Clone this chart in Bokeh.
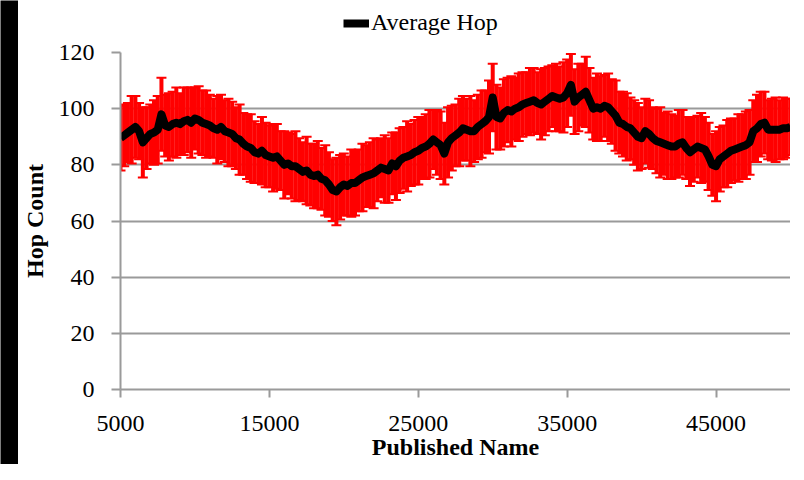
from bokeh.plotting import figure
from bokeh.layouts import row, column
from bokeh.models import (ColumnDataSource, Range1d, FixedTicker, Whisker, TeeHead,
                          Legend, LegendItem, BasicTickFormatter)
from bokeh.embed import file_html
from bokeh.resources import INLINE

# ---- data ----
published_name = list(range(5000, 50001, 250))

average_hop = [
    89.5, 90.5, 91.5, 92.5, 93.5, 92, 88, 89.5, 91, 91.5,
    92.5, 98, 94, 93.5, 94.5, 95, 94.5, 95.5, 96, 95,
    96.5, 96, 95, 94.5, 94, 93, 92.5, 93.5, 92, 91.5,
    91, 89.5, 89, 87.5, 86.5, 86, 84.5, 84, 85, 83.5,
    83, 82.5, 83, 81.5, 80, 80.5, 79.5, 79.5, 78.5, 77.5,
    78, 76.5, 76, 76.5, 75, 74.5, 73, 71, 70.5, 72,
    73, 72.5, 73.5, 73.5, 74.5, 75.5, 76, 76.5, 77, 78,
    79, 78.5, 78, 80.5, 79.5, 81.5, 82.5, 83, 83.5, 84.5,
    85, 86, 86.5, 87.5, 89, 88, 87, 84, 88, 89.5,
    90.5, 91.5, 93, 92.5, 92, 92, 93.5, 94.5, 95.5, 97,
    104, 97, 96.5, 98.5, 99.5, 99, 100, 100.5, 101.5, 102,
    102.5, 103, 102, 101.5, 102.5, 103.5, 104.5, 104, 103.5, 104,
    105.5, 108.5, 102.5, 104, 105, 106, 103, 100, 100.5, 100,
    101, 100.5, 99, 97.5, 95, 94.5, 93.5, 93, 91.5, 90,
    89.5, 92, 91, 89.5, 88.5, 88, 87.5, 87, 86.5, 86.5,
    87.5, 88, 86, 84.5, 85.5, 86.5, 86, 85.5, 83, 80,
    79.5, 82, 83, 84, 85, 85.5, 86, 86.5, 87, 88,
    92, 93, 94.5, 95, 92.5, 92.5, 92.5, 92.5, 93, 93,
    93.5,
]

hop_error = [
    11.5, 11, 10.5, 12, 11, 10, 12.5, 11, 10.5, 11.5,
    12, 13, 11, 12, 11.5, 12.5, 11, 12, 11.5, 12.5,
    11, 12, 11.5, 12, 11, 10.5, 12, 11.5, 11, 12,
    11.5, 11, 12.5, 11, 11.5, 12, 11, 10.5, 12, 11.5,
    11, 12, 11.5, 10.5, 12, 11, 11.5, 12.5, 11, 10.5,
    12, 11, 11.5, 12, 11, 12.5, 11.5, 11, 12, 11.5,
    11, 10.5, 12, 11.5, 11, 12, 11, 11.5, 12.5, 11,
    10.5, 12, 11.5, 11, 12, 11.5, 11, 12.5, 11, 11.5,
    12, 11, 11.5, 12, 10.5, 11.5, 12, 11, 12.5, 11.5,
    11, 12, 11.5, 11, 12.5, 11, 11.5, 12, 11, 13,
    12, 11.5, 11, 12, 11.5, 12.5, 11, 12, 11.5, 11,
    12, 11.5, 11, 12.5, 12, 11.5, 11, 12, 11.5, 12.5,
    12, 11, 11.5, 12, 11, 12.5, 11.5, 11, 12, 11.5,
    11, 12, 11.5, 12.5, 11, 11.5, 12, 11, 11.5, 12,
    11, 11.5, 12, 11, 11.5, 12.5, 11, 12, 11.5, 11,
    12, 11.5, 11, 12, 11.5, 11, 12.5, 11.5, 12, 11,
    12.5, 11.5, 11, 12, 11.5, 11, 12, 11.5, 12, 11.5,
    11, 12, 11.5, 11, 10.5, 11, 11.5, 10.5, 11, 10.5,
    10,
]

x_ticks = [5000, 15000, 25000, 35000, 45000]
y_ticks = [0, 20, 40, 60, 80, 100, 120]

src = ColumnDataSource(dict(
    x=published_name,
    y=average_hop,
    upper=[m + e for m, e in zip(average_hop, hop_error)],
    lower=[m - e for m, e in zip(average_hop, hop_error)],
))

FONT = "Liberation Serif"
GRAY = "#9a9a9a"

# ---- main chart ----
p = figure(frame_width=670, frame_height=337,
           min_border_left=100, min_border_right=0,
           min_border_top=16, min_border_bottom=75,
           x_range=Range1d(5000, 50000), y_range=Range1d(0, 120),
           output_backend="svg", toolbar_location=None)

p.outline_line_color = None
p.background_fill_color = "white"
p.border_fill_color = "white"

p.xgrid.visible = False
p.ygrid.ticker = FixedTicker(ticks=y_ticks)
p.ygrid.grid_line_color = GRAY
p.ygrid.grid_line_width = 2
p.ygrid.level = "image"

for ax in (p.xaxis[0], p.yaxis[0]):
    ax.axis_line_color = GRAY
    ax.axis_line_width = 2
    ax.major_tick_line_color = GRAY
    ax.major_tick_line_width = 2
    ax.major_tick_in = 0
    ax.minor_tick_line_color = None
    ax.major_label_text_font = FONT
    ax.major_label_text_font_size = "24px"
    ax.major_label_text_color = "black"
    ax.axis_label_text_font = FONT
    ax.axis_label_text_font_size = "24px"
    ax.axis_label_text_font_style = "bold"
    ax.axis_label_text_color = "black"

p.xaxis.ticker = FixedTicker(ticks=x_ticks)
p.xaxis.formatter = BasicTickFormatter(use_scientific=False)
p.xaxis.major_tick_out = 8
p.xaxis.major_label_standoff = 18
p.xaxis.axis_label = "Published Name"
p.xaxis.axis_label_standoff = 0

p.yaxis.ticker = FixedTicker(ticks=y_ticks)
p.yaxis.major_tick_out = 9
p.yaxis.major_label_standoff = 17
p.yaxis.axis_label = "Hop Count"
p.yaxis.axis_label_standoff = 8

whisk = Whisker(source=src, base="x", upper="upper", lower="lower",
                line_color="red", line_width=4, level="underlay",
                upper_head=TeeHead(size=10, line_color="red", line_width=2),
                lower_head=TeeHead(size=10, line_color="red", line_width=2))
p.add_layout(whisk)

p.line("x", "y", source=src, line_color="black", line_width=8,
       line_join="round")

# ---- legend strip above the chart (series kept out of view, only its key shows) ----
top = figure(width=770, height=36, min_border=0,
             x_range=Range1d(5000, 50000), y_range=Range1d(-200, -100),
             x_axis_location=None, y_axis_location=None,
             output_backend="svg", toolbar_location=None)
top.outline_line_color = None
top.grid.visible = False
key = top.line("x", "y", source=src, line_color="black", line_width=8)
legend = Legend(items=[LegendItem(label="Average Hop", renderers=[key])],
                location=(223, 0), orientation="horizontal",
                padding=0, margin=0, border_line_color=None,
                background_fill_alpha=0, glyph_width=26, glyph_height=20,
                label_standoff=2, label_text_font=FONT,
                label_text_font_size="24px", label_text_color="black")
top.add_layout(legend, "center")

# ---- dark scan edge on the left ----
edge = figure(width=18, height=464, min_border=0,
              x_axis_location=None, y_axis_location=None,
              output_backend="svg", toolbar_location=None)
edge.outline_line_color = None
edge.grid.visible = False
edge.background_fill_color = "black"
edge.border_fill_color = "black"
edge.line(x=[], y=[])

layout = row(edge, column(top, p, spacing=0), spacing=0)

open("out.html", "w").write(file_html(layout, INLINE))
